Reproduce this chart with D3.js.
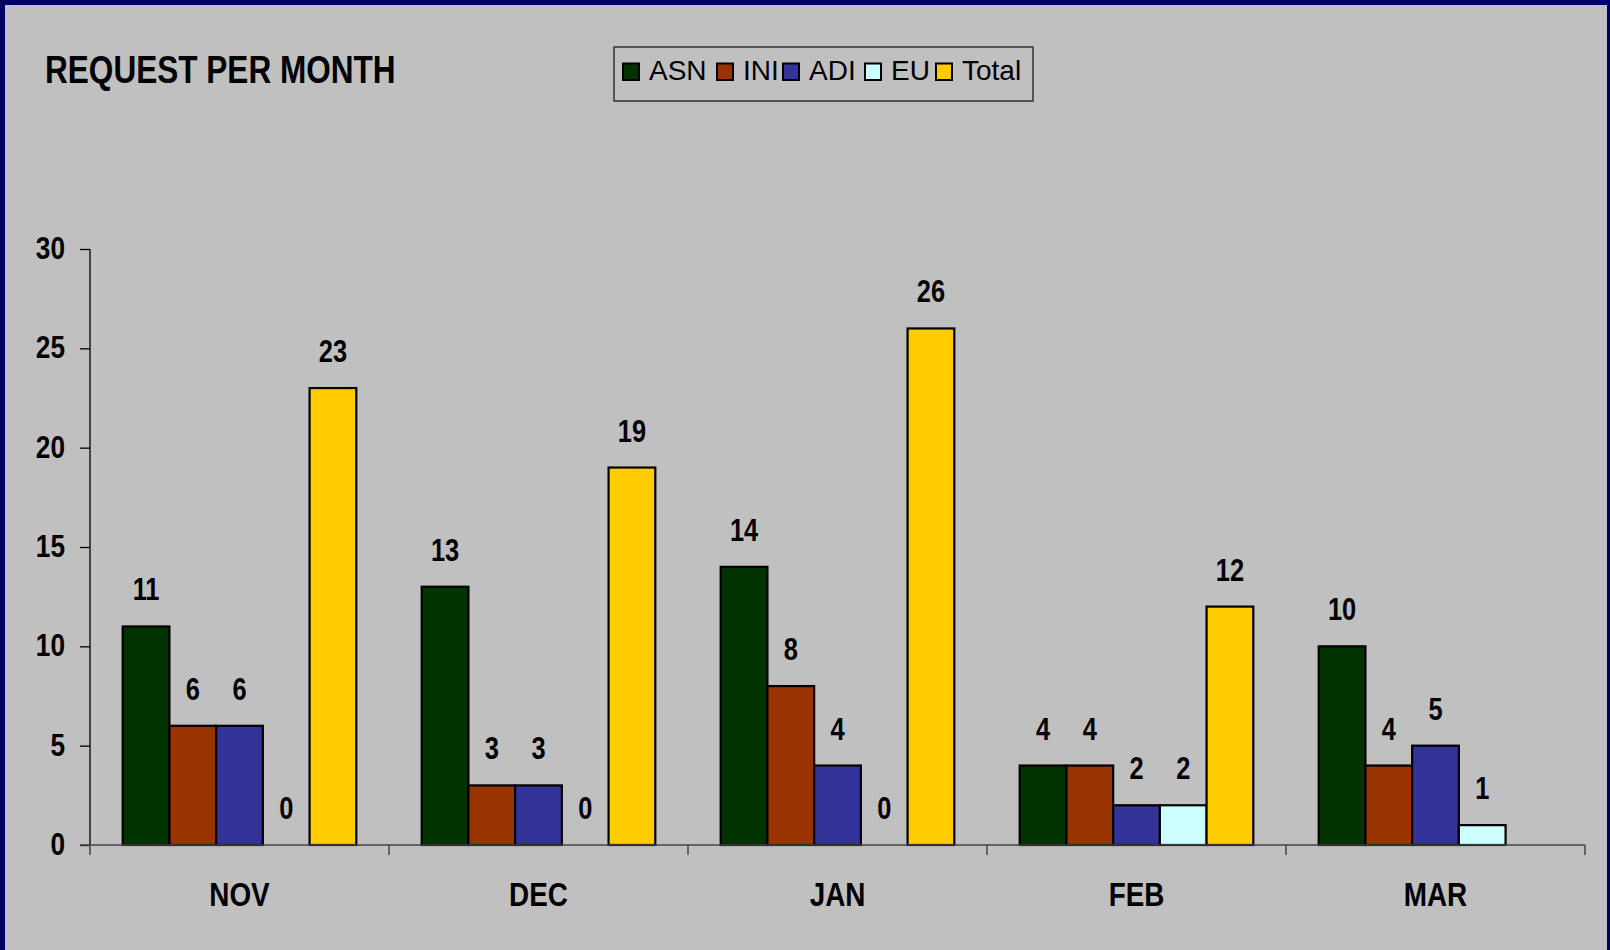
<!DOCTYPE html>
<html>
<head>
<meta charset="utf-8">
<script src="https://cdn.jsdelivr.net/npm/d3@7"></script>
<style>
  html, body { margin: 0; padding: 0; background: #C0C0C0; }
  svg { display: block; }
</style>
</head>
<body>
<svg id="chart" width="1610" height="950"></svg>
<script>
// ---- data ----
const months = ["NOV", "DEC", "JAN", "FEB", "MAR"];
const seriesNames = ["ASN", "INI", "ADI", "EU", "Total"];
const ASN   = [11, 13, 14, 4, 10];
const INI   = [6, 3, 8, 4, 4];
const ADI   = [6, 3, 4, 2, 5];
const EU    = [0, 0, 0, 2, 1];
const Total = [23, 19, 26, 12, null];
const yTicks = [0, 5, 10, 15, 20, 25, 30];
const colors = ["#003300", "#993300", "#333399", "#CCFFFF", "#FFCC00"];
const titleText = "REQUEST PER MONTH";

const seriesValues = [ASN, INI, ADI, EU, Total];

// ---- layout ----
const W = 1610, H = 950;
const plot = { left: 90, right: 1585, top: 249, bottom: 845 };
const NARROW = "'Liberation Sans Narrow', 'Arial Narrow', 'Nimbus Sans Narrow', sans-serif";
const REG = "'Liberation Sans', Arial, sans-serif";

const svg = d3.select("#chart");

// background + border
svg.append("rect").attr("width", W).attr("height", H).attr("fill", "#C0C0C0");
svg.append("rect").attr("x", 0).attr("y", 0).attr("width", W).attr("height", 5).attr("fill", "#000066");
svg.append("rect").attr("x", 0).attr("y", 0).attr("width", 5).attr("height", H).attr("fill", "#000066");
svg.append("rect").attr("x", 1607).attr("y", 0).attr("width", 3).attr("height", H).attr("fill", "#000066");

// detect narrow font availability
const probe = svg.append("text").attr("font-family", NARROW).attr("font-weight", "bold")
  .attr("font-size", 38.5).text(titleText);
const probeW = probe.node().getComputedTextLength();
probe.remove();
const sx = probeW > 380 ? 0.82 : 1;

function ntext(g, x, y, str, size, anchor) {
  return g.append("text")
    .attr("transform", `translate(${x},${y}) scale(${sx},1)`)
    .attr("font-family", NARROW).attr("font-weight", "bold")
    .attr("font-size", size).attr("text-anchor", anchor || "start")
    .attr("fill", "#000").text(str);
}

// title
ntext(svg, 45, 83, titleText, 38.5, "start");

// scales
const x0 = d3.scaleBand().domain(months).range([plot.left, plot.right]).paddingInner(0).paddingOuter(0);
const x1 = d3.scaleBand().domain(seriesNames).range([0, x0.bandwidth()]).paddingInner(0).paddingOuter(0.7);
const y = d3.scaleLinear().domain([0, 30]).range([plot.bottom, plot.top]);

// bars
const gBars = svg.append("g");
months.forEach((m, i) => {
  seriesNames.forEach((s, j) => {
    const v = seriesValues[j][i];
    if (v === null || v === undefined) return;
    const bx = x0(m) + x1(s);
    if (v > 0) {
      gBars.append("rect")
        .attr("x", bx).attr("y", y(v))
        .attr("width", x1.bandwidth()).attr("height", y(0) - y(v))
        .attr("fill", colors[j]).attr("stroke", "#000").attr("stroke-width", 2.2);
    }
  });
});

// axes
const gAx = svg.append("g");
// y axis
const yAxis = d3.axisLeft(y).tickValues(yTicks).tickSize(10).tickFormat("");
const gy = gAx.append("g").attr("transform", `translate(${plot.left},0)`).call(yAxis);
gy.select(".domain").attr("stroke", "#000").attr("stroke-width", 1.3).attr("d", `M0,${plot.top}V${plot.bottom}`);
gy.selectAll(".tick line").attr("stroke", "#000").attr("stroke-width", 1.3);
yTicks.forEach(t => ntext(gAx, 65, y(t) + 10, String(t), 32, "end"));

// x axis
const bounds = months.map(m => x0(m)).concat([plot.right]);
gAx.append("line").attr("x1", plot.left - 10).attr("x2", plot.right)
  .attr("y1", plot.bottom).attr("y2", plot.bottom)
  .attr("stroke", "#444").attr("stroke-width", 1.5);
bounds.forEach(b => {
  gAx.append("line").attr("x1", b).attr("x2", b).attr("y1", plot.bottom).attr("y2", plot.bottom + 10)
    .attr("stroke", "#444").attr("stroke-width", 1.5);
});
months.forEach(m => ntext(gAx, x0(m) + x0.bandwidth() / 2, 906, m, 34, "middle"));

// value labels
const gLab = svg.append("g");
months.forEach((m, i) => {
  seriesNames.forEach((s, j) => {
    const v = seriesValues[j][i];
    if (v === null || v === undefined) return;
    const cx = x0(m) + x1(s) + x1.bandwidth() / 2;
    ntext(gLab, cx, y(v) - 26, String(v), 31, "middle");
  });
});

// legend
const gLeg = svg.append("g");
gLeg.append("rect").attr("x", 614).attr("y", 47).attr("width", 419).attr("height", 54)
  .attr("fill", "none").attr("stroke", "#333").attr("stroke-width", 1.5);
const legX = [623, 717, 783, 865, 936];
seriesNames.forEach((s, j) => {
  gLeg.append("rect").attr("x", legX[j]).attr("y", 63.5).attr("width", 16).attr("height", 16.5)
    .attr("fill", colors[j]).attr("stroke", "#000").attr("stroke-width", 2);
  gLeg.append("text").attr("x", legX[j] + 26).attr("y", 80)
    .attr("font-family", REG).attr("font-size", 28).attr("fill", "#000").text(s);
});
</script>
</body>
</html>
